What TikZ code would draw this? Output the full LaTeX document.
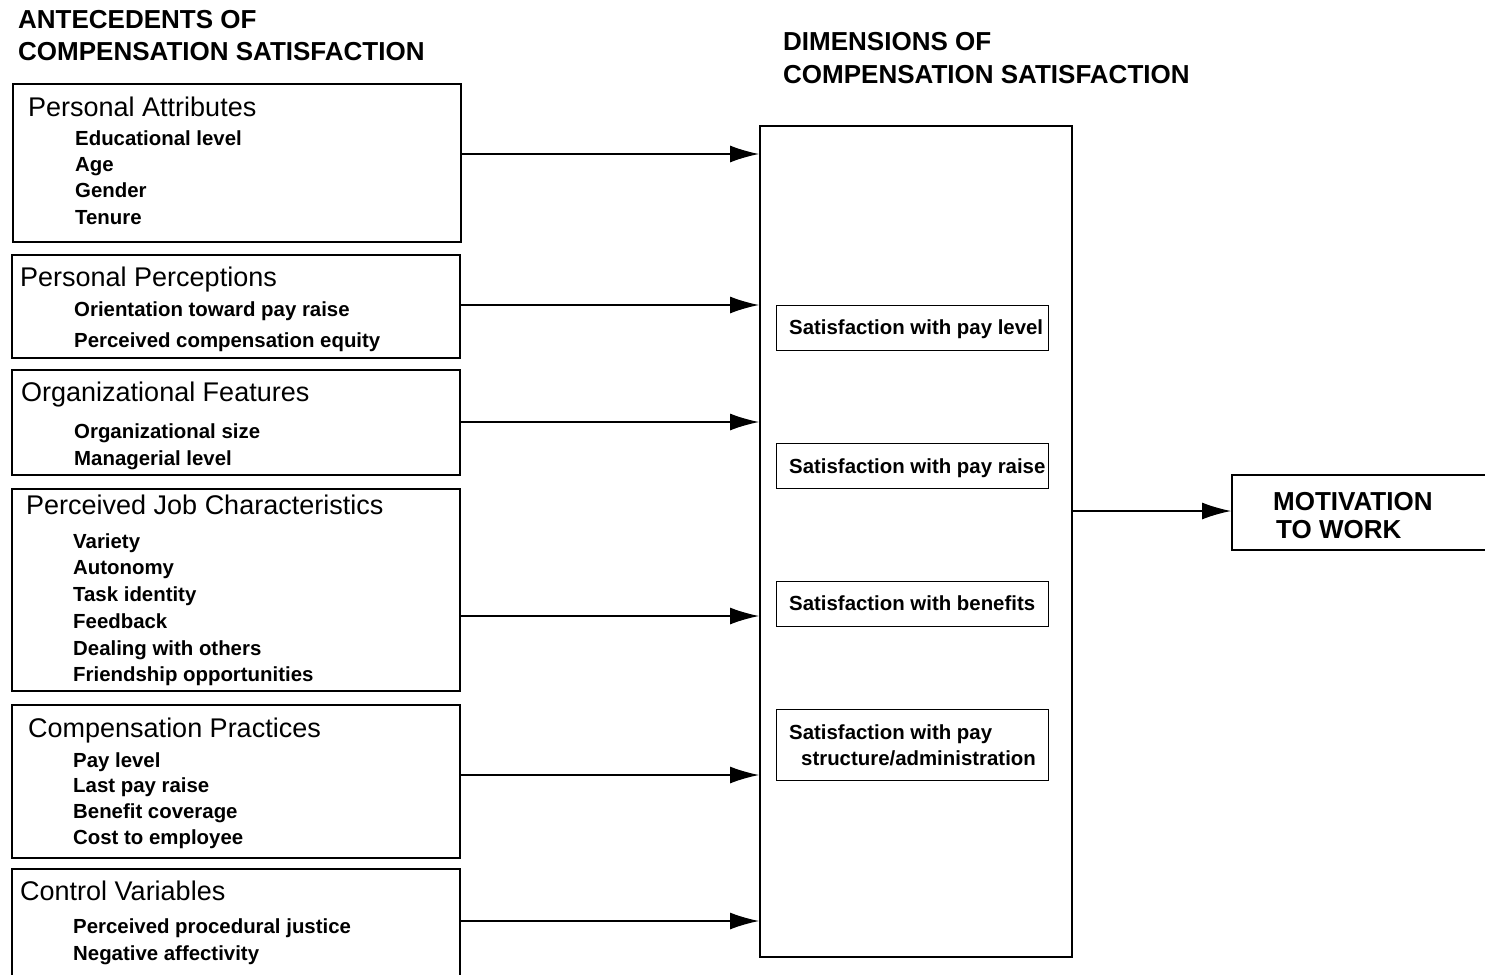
\documentclass[tikz,border=0pt]{standalone}
\usepackage{fontspec}
\setmainfont{Liberation Sans}
\usetikzlibrary{arrows.meta}
\newcommand{\ttlfont}{\fontsize{26}{26}\selectfont\bfseries}
\newcommand{\hdfont}{\fontsize{27}{27}\selectfont}
\newcommand{\itmfont}{\fontsize{20.4}{20}\selectfont\bfseries}
\newcommand{\dimfont}{\fontsize{20.4}{20}\selectfont\bfseries}
\begin{document}
\begin{tikzpicture}[x=1pt,y=-1pt,
  box/.style={draw, line width=1.6pt, anchor=north west, inner sep=0pt},
  txt/.style={anchor=base west, inner sep=0pt},
  hd/.style={txt, font=\hdfont},
  itm/.style={txt, font=\itmfont},
  arr/.style={line width=1.3pt, -{Latex[length=29pt,width=17pt]}}]
\useasboundingbox (0,0) rectangle (1485,974);
\clip (0,0) rectangle (1485,974);
% titles
\node[txt, font=\ttlfont] (ta1) at (18,29) {ANTECEDENTS OF};
\node[txt, font=\ttlfont] (ta2) at (18,61) {COMPENSATION SATISFACTION};
\node[txt, font=\ttlfont] (td1) at (783,51) {DIMENSIONS OF};
\node[txt, font=\ttlfont] (td2) at (783,83) {COMPENSATION SATISFACTION};
% antecedent boxes
\node[box, minimum width=448pt, minimum height=158pt] (b1) at (12,83) {};
\node[box, minimum width=448pt, minimum height=103pt] (b2) at (11,254) {};
\node[box, minimum width=448pt, minimum height=105pt] (b3) at (11,369) {};
\node[box, minimum width=448pt, minimum height=202pt] (b4) at (11,488) {};
\node[box, minimum width=448pt, minimum height=153pt] (b5) at (11,704) {};
\node[box, minimum width=448pt, minimum height=130pt] (b6) at (11,868) {};
% box 1
\node[hd] (h1) at (28,116) {Personal Attributes};
\node[itm] (i11) at (75,145) {Educational level};
\node[itm] (i12) at (75,171) {Age};
\node[itm] (i13) at (75,197) {Gender};
\node[itm] (i14) at (75,224) {Tenure};
% box 2
\node[hd] (h2) at (20,286) {Personal Perceptions};
\node[itm] (i21) at (74,316) {Orientation toward pay raise};
\node[itm] (i22) at (74,347) {Perceived compensation equity};
% box 3
\node[hd] (h3) at (21,401) {Organizational Features};
\node[itm] (i31) at (74,438) {Organizational size};
\node[itm] (i32) at (74,465) {Managerial level};
% box 4
\node[hd] (h4) at (26,514) {Perceived Job Characteristics};
\node[itm] (i41) at (73,548) {Variety};
\node[itm] (i42) at (73,574) {Autonomy};
\node[itm] (i43) at (73,601) {Task identity};
\node[itm] (i44) at (73,628) {Feedback};
\node[itm] (i45) at (73,655) {Dealing with others};
\node[itm] (i46) at (73,681) {Friendship opportunities};
% box 5
\node[hd] (h5) at (28,737) {Compensation Practices};
\node[itm] (i51) at (73,767) {Pay level};
\node[itm] (i52) at (73,792) {Last pay raise};
\node[itm] (i53) at (73,818) {Benefit coverage};
\node[itm] (i54) at (73,844) {Cost to employee};
% box 6
\node[hd] (h6) at (20,900) {Control Variables};
\node[itm] (i61) at (73,933) {Perceived procedural justice};
\node[itm] (i62) at (73,960) {Negative affectivity};
% dimensions box
\node[box, minimum width=312pt, minimum height=831pt] (dim) at (759,125) {};
\node[box, line width=1.3pt, minimum width=272pt, minimum height=45pt] (d1) at (776,305) {};
\node[box, line width=1.3pt, minimum width=272pt, minimum height=45pt] (d2) at (776,443) {};
\node[box, line width=1.3pt, minimum width=272pt, minimum height=45pt] (d3) at (776,581) {};
\node[box, line width=1.3pt, minimum width=272pt, minimum height=71pt] (d4) at (776,709) {};
\node[txt, font=\dimfont] (s1) at (789,334) {Satisfaction with pay level};
\node[txt, font=\dimfont] (s2) at (789,473) {Satisfaction with pay raise};
\node[txt, font=\dimfont] (s3) at (789,610) {Satisfaction with benefits};
\node[txt, font=\dimfont] (s4a) at (789,739) {Satisfaction with pay};
\node[txt, font=\dimfont] (s4b) at (801,765) {structure/administration};
% motivation box
\node[box, minimum width=280pt, minimum height=75pt] (mot) at (1231,474) {};
\node[txt, font=\ttlfont] (m1) at (1273,510) {MOTIVATION};
\node[txt, font=\ttlfont] (m2) at (1276,538) {TO WORK};
% arrows
\draw[arr] (b1.east |- 0,154) -- (dim.west |- 0,154);
\draw[arr] (b2.east |- 0,305) -- (dim.west |- 0,305);
\draw[arr] (b3.east |- 0,422) -- (dim.west |- 0,422);
\draw[arr] (b4.east |- 0,616) -- (dim.west |- 0,616);
\draw[arr] (b5.east |- 0,775) -- (dim.west |- 0,775);
\draw[arr] (b6.east |- 0,921) -- (dim.west |- 0,921);
\draw[arr] (dim.east |- 0,511) -- (mot.west |- 0,511);
\end{tikzpicture}
\end{document}
